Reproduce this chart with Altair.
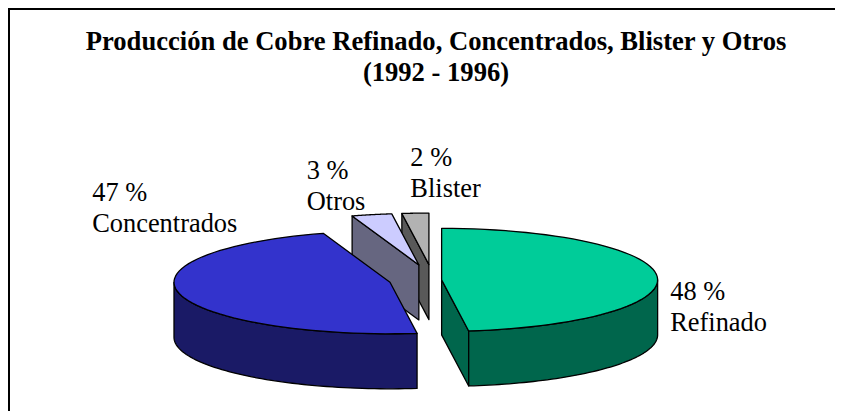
import altair as alt
import pandas as pd

# ---- data ----
categories = ["Refinado", "Concentrados", "Otros", "Blister"]
shares = [48, 47, 3, 2]
title_lines = ["Producción de Cobre Refinado, Concentrados, Blister y Otros", "(1992 - 1996)"]

# ---- styles ----
top_colors = ["#00CC99", "#3333CC", "#CCCCFF", "#B2B2B2"]
side_colors = ["#00664C", "#1A1A66", "#666680", "#595959"]
explode = [0.04, 0.204, 0.3, 0.3]          # radial explosion of each slice
draw_order = ["Blister", "Otros", "Refinado", "Concentrados"]  # back to front
label_nudge = {"Refinado": (13, 23), "Concentrados": (-87, -93),
               "Otros": (-65, -36), "Blister": (-5, -47)}

W, H = 827, 403
CX, CY = 425, 272        # pie centre (plot units)
A, B, D = 216, 51.5, 55  # ellipse half-axes and depth
M = 60                   # arc segments
FONT = "Liberation Serif"

slices = pd.DataFrame({
    "cat": categories, "share": shares, "idx": list(range(len(categories))),
    "topc": top_colors, "sidec": side_colors, "explode": explode,
})

xs = alt.Scale(domain=[0, W], nice=False, zero=False)
ys = alt.Scale(domain=[0, H], nice=False, zero=False, reverse=True)

prep = (
    alt.Chart(slices)
    .transform_window(cum="sum(share)", sort=[alt.SortField("idx")], frame=[None, 0])
    .transform_joinaggregate(total="sum(share)")
    .transform_calculate(
        t0="2*PI*(datum.cum - datum.share)/datum.total",
        t1="2*PI*datum.cum/datum.total",
    )
    .transform_calculate(tm="(datum.t0 + datum.t1)/2")
    .transform_calculate(
        ax=f"{CX} + datum.explode*{A}*sin(datum.tm)",
        ay=f"{CY} - datum.explode*{B}*cos(datum.tm)",
        s0="max(datum.t0, PI/2)",
        s1="min(datum.t1, 3*PI/2)",
    )
)

faces = (
    prep.transform_calculate(faces="['cutA', 'cutB', 'side', 'top']")
    .transform_flatten(["faces"], as_=["face"])
    .transform_calculate(
        vis="datum.face === 'top' ? 1 : datum.face === 'side' ? datum.s1 - datum.s0 : "
            "datum.face === 'cutA' ? -cos(datum.t0 - PI/2) : -cos(datum.t1 + PI/2)"
    )
    .transform_filter("datum.vis > 0.001")
    .transform_calculate(ks=f"sequence(0, {2 * M + 2})")
    .transform_flatten(["ks"], as_=["k"])
    .transform_calculate(
        ang=f"datum.face === 'top' ? datum.t0 + (clamp(datum.k - 1, 0, {M})/{M})*(datum.t1 - datum.t0) : "
            f"datum.face === 'side' ? (datum.k <= {M} ? datum.s0 + (datum.k/{M})*(datum.s1 - datum.s0) : "
            f"datum.s1 - (min(datum.k - {M} - 1, {M})/{M})*(datum.s1 - datum.s0)) : "
            "datum.face === 'cutA' ? datum.t0 : datum.t1",
        onrim="datum.face === 'top' ? datum.k > 0 : datum.face === 'side' ? true : (datum.k == 1 || datum.k == 2)",
        down=f"datum.face === 'top' ? 0 : datum.face === 'side' ? (datum.k > {M} ? 1 : 0) : (datum.k >= 2 ? 1 : 0)",
    )
    .transform_calculate(
        px=f"datum.ax + (datum.onrim ? {A}*sin(datum.ang) : 0)",
        py=f"datum.ay - (datum.onrim ? {B}*cos(datum.ang) : 0) + datum.down*{D}",
        fillc="datum.face === 'top' ? datum.topc : datum.sidec",
        poly="datum.cat + '-' + datum.face",
    )
)

pie_layers = []
for c in draw_order:
    pie_layers.append(
        faces.transform_filter(alt.datum.cat == c)
        .mark_line(interpolate="linear-closed", stroke="black", strokeWidth=1.3, strokeJoin="round")
        .encode(
            x=alt.X("px:Q", scale=xs, axis=None),
            y=alt.Y("py:Q", scale=ys, axis=None),
            detail="poly:N",
            order=alt.Order("k:Q"),
            fill=alt.Fill("fillc:N", scale=None, legend=None),
        )
    )

label_layers = []
for c in categories:
    dx, dy = label_nudge[c]
    label_layers.append(
        prep.transform_filter(alt.datum.cat == c)
        .transform_calculate(
            lx=f"datum.ax + {A}*sin(datum.tm)",
            ly=f"datum.ay - {B}*cos(datum.tm)",
            label="datum.share + ' %\\n' + datum.cat",
        )
        .mark_text(font=FONT, fontSize=26.4, lineHeight=31, lineBreak="\n",
                   align="left", baseline="alphabetic", color="black", dx=dx, dy=dy)
        .encode(x=alt.X("lx:Q", scale=xs, axis=None),
                y=alt.Y("ly:Q", scale=ys, axis=None),
                text="label:N")
    )

title = (
    alt.Chart(pd.DataFrame({"t": ["\n".join(title_lines)]}))
    .mark_text(font=FONT, fontSize=26.6, fontWeight="bold", lineHeight=30.5,
               lineBreak="\n", align="center", baseline="alphabetic", color="black")
    .encode(x=alt.value(428), y=alt.value(42), text="t:N")
)

one = pd.DataFrame({"a": [0]})
frame_top = alt.Chart(one).mark_rule(color="black", strokeWidth=2).encode(
    x=alt.value(0), x2=alt.value(W), y=alt.value(1))
frame_left = alt.Chart(one).mark_rule(color="black", strokeWidth=2).encode(
    x=alt.value(1), y=alt.value(0), y2=alt.value(H))

chart = (
    alt.layer(frame_top, frame_left, title, *pie_layers, *label_layers)
    .properties(width=W, height=H, padding=0, autosize="none", background="white")
    .configure_view(stroke=None)
)

chart.save("out.html", embed_options={"renderer": "svg", "actions": False})
